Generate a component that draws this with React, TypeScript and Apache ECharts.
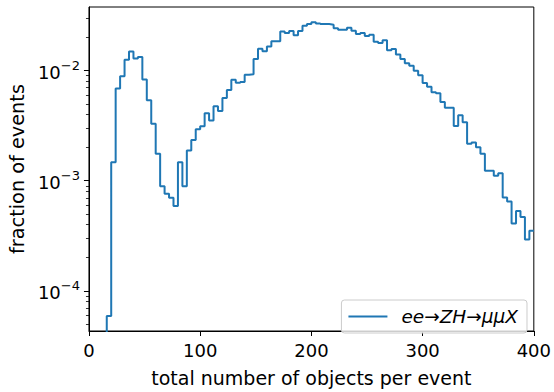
import React, { useEffect, useRef } from "react";
import * as echarts from "echarts";

// ---- data ----
const BIN_START = 0;
const BIN_WIDTH = 4;
// fraction of events per bin of width 4 from 0 to 400 (0 = empty bin)
const fractions = [
  0, 0, 0, 0, 5.9e-5, 1.47e-3, 6.9e-3, 8.9e-3, 1.26e-2, 1.49e-2,
  1.29e-2, 1.33e-2, 8.3e-3, 5.4e-3, 3.3e-3, 1.76e-3, 8.9e-4, 7.6e-4, 7.0e-4, 5.9e-4,
  1.47e-3, 8.9e-4, 1.88e-3, 2.35e-3, 2.94e-3, 3.12e-3, 4.11e-3, 3.52e-3, 4.76e-3, 4.31e-3,
  5.64e-3, 6.68e-3, 8.28e-3, 7.78e-3, 7.9e-3, 9.2e-3, 9.3e-3, 1.28e-2, 1.58e-2, 1.5e-2,
  1.66e-2, 1.85e-2, 1.85e-2, 2.27e-2, 2.2e-2, 2.29e-2, 2.1e-2, 2.29e-2, 2.56e-2, 2.65e-2,
  2.75e-2, 2.69e-2, 2.65e-2, 2.65e-2, 2.62e-2, 2.43e-2, 2.36e-2, 2.36e-2, 2.45e-2, 2.3e-2,
  2.15e-2, 2.2e-2, 2.07e-2, 2.12e-2, 1.83e-2, 1.78e-2, 1.89e-2, 1.53e-2, 1.57e-2, 1.4e-2,
  1.28e-2, 1.17e-2, 1.11e-2, 1.0e-2, 9.1e-3, 7.74e-3, 7.14e-3, 6.37e-3, 6.24e-3, 5.2e-3,
  4.61e-3, 4.61e-3, 3.14e-3, 3.94e-3, 3.4e-3, 2.17e-3, 2.23e-3, 2.01e-3, 1.76e-3, 1.23e-3,
  1.23e-3, 1.11e-3, 1.17e-3, 7.03e-4, 6.49e-4, 4.08e-4, 5.31e-4, 4.67e-4, 2.92e-4, 3.51e-4,
];
const xTicks = [0, 100, 200, 300, 400];
const yMajorTicks = [1e-4, 1e-3, 1e-2];
const yMinorTicks = [
  5e-5, 6e-5, 7e-5, 8e-5, 9e-5,
  2e-4, 3e-4, 4e-4, 5e-4, 6e-4, 7e-4, 8e-4, 9e-4,
  2e-3, 3e-3, 4e-3, 5e-3, 6e-3, 7e-3, 8e-3, 9e-3,
  2e-2, 3e-2,
];
const Y_MIN = 4.31e-5;
const Y_MAX = 0.0379;
const SERIES_NAME = "ee→ZH→μμX";
const X_LABEL = "total number of objects per event";
const Y_LABEL = "fraction of events";

const FONT = "DejaVu Sans";
const LINE_COLOR = "#1f77b4";
const FLOOR = 1e-9; // empty bins are clipped to the bottom like matplotlib

export default function App() {
  const ref = useRef<HTMLDivElement>(null);
  useEffect(() => {
    if (!ref.current) return;
    const chart = echarts.init(ref.current, undefined, { renderer: "svg" });

    const pts: [number, number][] = fractions.map((v, i) => [
      BIN_START + i * BIN_WIDTH,
      v > 0 ? v : FLOOR,
    ]);
    const lastEdge = BIN_START + fractions.length * BIN_WIDTH;
    pts.push([lastEdge, fractions[fractions.length - 1]]);

    const supFormatter = (v: number) => {
      const e = Math.round(Math.log10(v));
      return `{b|10}{s|${e < 0 ? "\u2212" : ""}${Math.abs(e)}}`;
    };

    const option: any = {
      animation: false,
      grid: {
        left: 87,
        right: 18,
        top: 7,
        bottom: 49,
        show: true,
        borderColor: "#000",
        borderWidth: 1,
        backgroundColor: "transparent",
      },
      legend: {
        show: true,
        right: 27,
        bottom: 59,
        selectedMode: false,
        itemWidth: 39,
        itemHeight: 2,
        icon: "rect",
        itemStyle: { color: LINE_COLOR },
        padding: [7, 9, 7, 7],
        borderColor: "#cccccc",
        borderWidth: 1,
        borderRadius: 3,
        backgroundColor: "rgba(255,255,255,0.8)",
        data: [SERIES_NAME],
        formatter: () => "{i|ee}{n|→}{i|ZH}{n|→}{i|μμX}",
        textStyle: {
          padding: [0, 0, 0, 9],
          fontFamily: FONT,
          fontSize: 18.5,
          color: "#000",
          rich: {
            i: { fontFamily: FONT, fontSize: 18.5, fontStyle: "italic", color: "#000" },
            n: { fontFamily: FONT, fontSize: 18.5, fontStyle: "normal", color: "#000" },
          },
        },
      },
      xAxis: {
        type: "value",
        min: xTicks[0],
        max: xTicks[xTicks.length - 1],
        interval: 100,
        name: X_LABEL,
        nameLocation: "middle",
        nameGap: 37,
        nameTextStyle: { fontFamily: FONT, fontSize: 19, color: "#000", verticalAlign: "top" },
        axisLine: { show: true, onZero: false, lineStyle: { color: "#000", width: 1 } },
        axisTick: { show: true, inside: false, length: 5, lineStyle: { color: "#000", width: 1 } },
        axisLabel: { fontFamily: FONT, fontSize: 18, color: "#000", margin: 10 },
        splitLine: { show: false },
      },
      yAxis: [
        {
          type: "log",
          logBase: 10,
          min: Y_MIN,
          max: Y_MAX,
          position: "left",
          name: Y_LABEL,
          nameLocation: "middle",
          nameGap: 57,
          nameRotate: 90,
          nameTextStyle: { fontFamily: FONT, fontSize: 19.3, color: "#000" },
          axisLine: { show: true, lineStyle: { color: "#000", width: 1 } },
          axisTick: {
            show: true,
            inside: false,
            length: 5,
            customValues: yMajorTicks,
            lineStyle: { color: "#000", width: 1 },
          },
          axisLabel: {
            show: true,
            customValues: yMajorTicks,
            margin: 9,
            formatter: supFormatter,
            rich: {
              b: { fontFamily: FONT, fontSize: 18, color: "#000", lineHeight: 22, verticalAlign: "bottom" },
              s: {
                fontFamily: FONT,
                fontSize: 13,
                color: "#000",
                lineHeight: 13,
                verticalAlign: "bottom",
                padding: [0, 0, 10, 0],
              },
            },
          },
          splitLine: { show: false },
          minorTick: { show: false },
        },
        {
          type: "log",
          logBase: 10,
          min: Y_MIN,
          max: Y_MAX,
          position: "left",
          axisLine: { show: false },
          axisTick: {
            show: true,
            inside: false,
            length: 3,
            customValues: yMinorTicks,
            lineStyle: { color: "#000", width: 0.8 },
          },
          axisLabel: { show: false },
          splitLine: { show: false },
        },
      ],
      series: [
        {
          name: SERIES_NAME,
          type: "line",
          step: "end",
          yAxisIndex: 0,
          symbol: "none",
          clip: true,
          data: pts,
          lineStyle: { color: LINE_COLOR, width: 2 },
          itemStyle: { color: LINE_COLOR },
        },
      ],
    };
    chart.setOption(option);
    return () => chart.dispose();
  }, []);
  return (
    <div
      ref={ref}
      style={{ position: "absolute", left: 0, top: 0, width: 554, height: 392, background: "#fff" }}
    />
  );
}
